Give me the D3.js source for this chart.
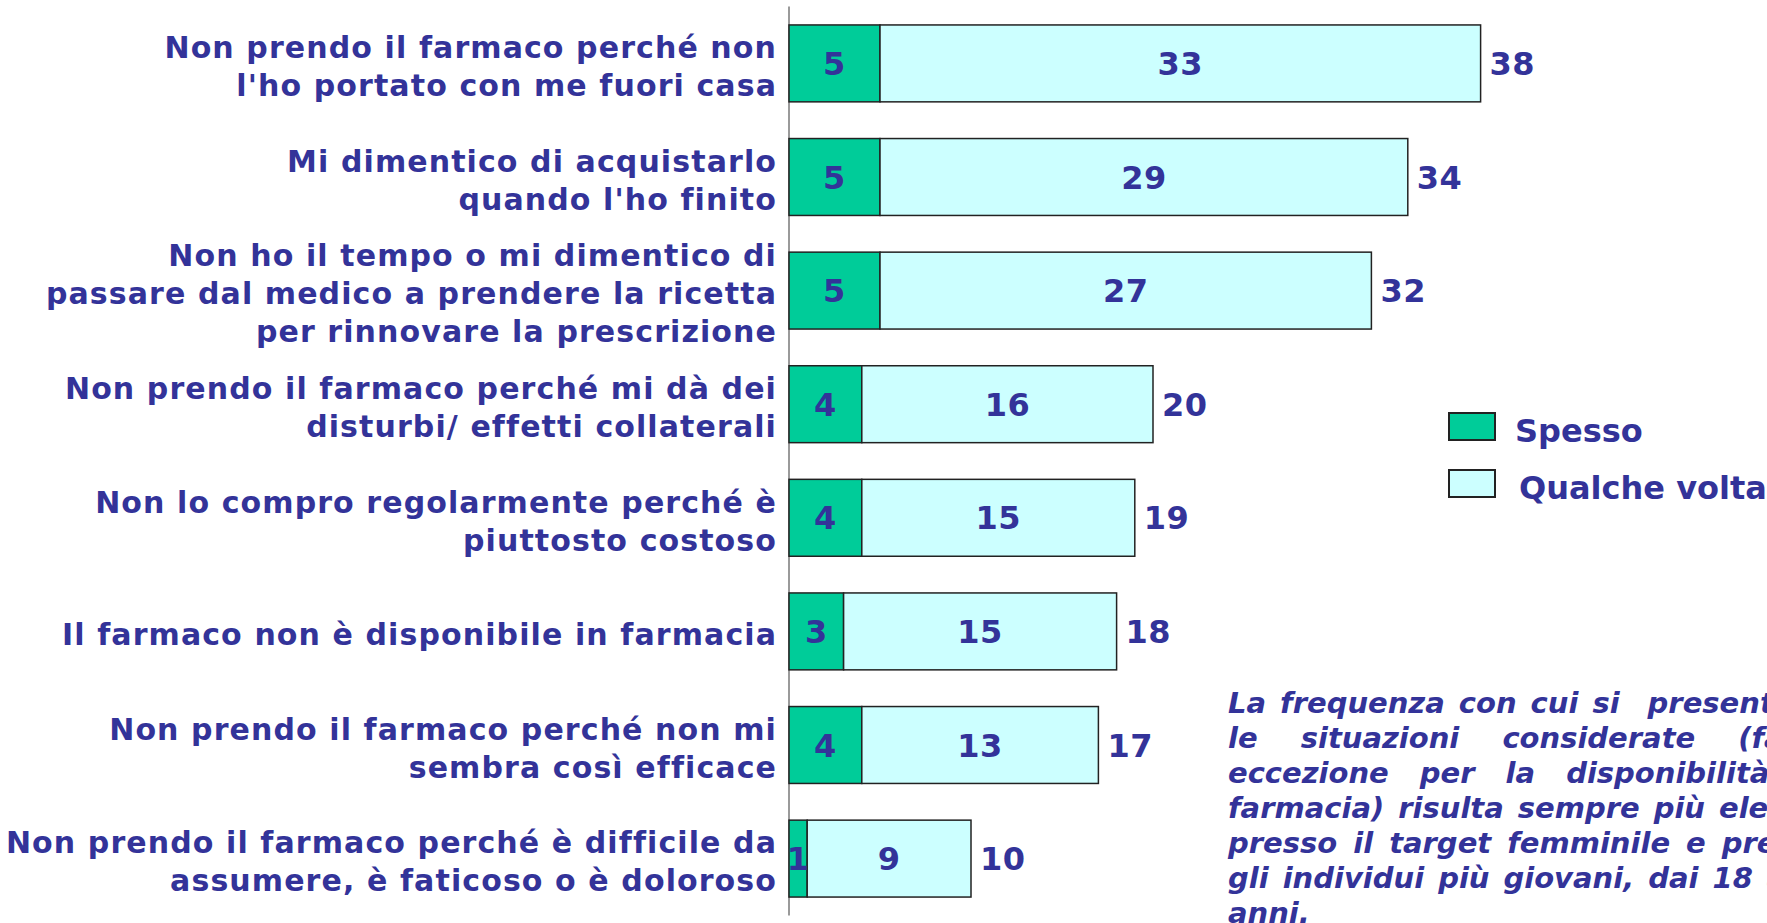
<!DOCTYPE html>
<html>
<head>
<meta charset="utf-8">
<script src="https://cdn.jsdelivr.net/npm/d3@7"></script>
<style>
  body { margin: 0; background: #fff; overflow: hidden; }
  svg { display: block; }
  text { font-family: "DejaVu Sans", Verdana, sans-serif; font-weight: bold; fill: #333399; }
</style>
</head>
<body>
<svg id="chart"></svg>
<script>
const categories = [
  ["Non prendo il farmaco perché non", "l'ho portato con me fuori casa"],
  ["Mi dimentico di acquistarlo", "quando l'ho finito"],
  ["Non ho il tempo o mi dimentico di", "passare dal medico a prendere la ricetta", "per rinnovare la prescrizione"],
  ["Non prendo il farmaco perché mi dà dei", "disturbi/ effetti collaterali"],
  ["Non lo compro regolarmente perché è", "piuttosto costoso"],
  ["Il farmaco non è disponibile in farmacia"],
  ["Non prendo il farmaco perché non mi", "sembra così efficace"],
  ["Non prendo il farmaco perché è difficile da", "assumere, è faticoso o è doloroso"]
];
const spesso = [5, 5, 5, 4, 4, 3, 4, 1];
const qualcheVolta = [33, 29, 27, 16, 15, 15, 13, 9];
const totals = [38, 34, 32, 20, 19, 18, 17, 10];
const seriesNames = ["Spesso", "Qualche volta"];
const seriesColors = ["#00cc99", "#ccffff"];
const noteLines = [
  "La frequenza con cui si  presentano",
  "le situazioni considerate (fatta",
  "eccezione per la disponibilità in",
  "farmacia) risulta sempre più elevata",
  "presso il target femminile e presso",
  "gli individui più giovani, dai 18 ai 34",
  "anni."
];

const width = 1767, height = 923;
const svg = d3.select("#chart").attr("width", width).attr("height", height);

const keys = categories.map((c, i) => i);
const x = d3.scaleLinear().domain([0, 40]).range([789, 1517]);
const y = d3.scaleBand().domain(keys).range([6.6, 915.4]).paddingInner(0.323).paddingOuter(0.1615);

// axis line
svg.append("line")
  .attr("x1", x(0)).attr("x2", x(0))
  .attr("y1", y.range()[0]).attr("y2", y.range()[1])
  .attr("stroke", "#9a9a9a").attr("stroke-width", 2);

const rows = keys.map(i => ({i, s: spesso[i], q: qualcheVolta[i], t: totals[i]}));

const g = svg.selectAll("g.row").data(rows).enter().append("g").attr("class", "row");

g.append("rect")
  .attr("x", d => x(0)).attr("y", d => y(d.i))
  .attr("width", d => x(d.s) - x(0)).attr("height", y.bandwidth())
  .attr("fill", seriesColors[0]).attr("stroke", "#222").attr("stroke-width", 1.5);

g.append("rect")
  .attr("x", d => x(d.s)).attr("y", d => y(d.i))
  .attr("width", d => x(d.s + d.q) - x(d.s)).attr("height", y.bandwidth())
  .attr("fill", seriesColors[1]).attr("stroke", "#222").attr("stroke-width", 1.5);

const numStyle = sel => sel.style("font-size", "32px").style("letter-spacing", "0.5px");

g.append("text")
  .attr("x", d => (x(0) + x(d.s)) / 2).attr("y", d => y(d.i) + y.bandwidth() / 2)
  .attr("text-anchor", "middle").attr("dy", "0.36em")
  .call(numStyle)
  .text(d => d.s);

g.append("text")
  .attr("x", d => (x(d.s) + x(d.s + d.q)) / 2).attr("y", d => y(d.i) + y.bandwidth() / 2)
  .attr("text-anchor", "middle").attr("dy", "0.36em")
  .call(numStyle)
  .text(d => d.q);

g.append("text")
  .attr("x", d => x(d.t) + 9).attr("y", d => y(d.i) + y.bandwidth() / 2)
  .attr("dy", "0.36em")
  .call(numStyle)
  .text(d => d.t);

// category labels
const lineH = 38;
g.append("text")
  .attr("text-anchor", "end")
  .style("font-size", "30px").style("letter-spacing", "1.1px")
  .each(function(d) {
    const lines = categories[d.i];
    const cy = y(d.i) + y.bandwidth() / 2 + 3;
    const y0 = cy - (lines.length - 1) * lineH / 2;
    d3.select(this).selectAll("tspan").data(lines).enter().append("tspan")
      .attr("x", 777).attr("y", (l, k) => y0 + k * lineH).attr("dy", "0.36em")
      .text(l => l);
  });

// legend
const legend = svg.append("g").selectAll("g").data(seriesNames).enter().append("g")
  .attr("transform", (d, i) => `translate(1449, ${413 + i * 57})`);
legend.append("rect").attr("width", 46).attr("height", 27)
  .attr("fill", (d, i) => seriesColors[i]).attr("stroke", "#222").attr("stroke-width", 2);
legend.append("text").attr("x", (d, i) => 66 + i * 4).attr("y", 17).attr("dy", "0.36em")
  .style("font-size", "32px").text(d => d);

// note, justified (the box runs past the right edge, as in the slide)
const noteX = 1228, noteW = 603, noteY = 713, noteLH = 35, spaceW = 14;
const note = svg.append("g").style("font-size", "29px").style("font-style", "italic");
noteLines.forEach((line, li) => {
  const words = line.split(" ");
  const t = note.append("text").attr("y", noteY + li * noteLH);
  const widths = words.map(w => {
    if (!w) return 0;
    const tmp = note.append("text").text(w);
    const wd = tmp.node().getComputedTextLength();
    tmp.remove();
    return wd;
  });
  const last = li === noteLines.length - 1;
  const gap = last ? spaceW : Math.max(spaceW, (noteW - d3.sum(widths)) / (words.length - 1));
  let cx = noteX;
  words.forEach((w, k) => {
    if (w) t.append("tspan").attr("x", cx).text(w);
    cx += widths[k] + gap;
  });
});
</script>
</body>
</html>
